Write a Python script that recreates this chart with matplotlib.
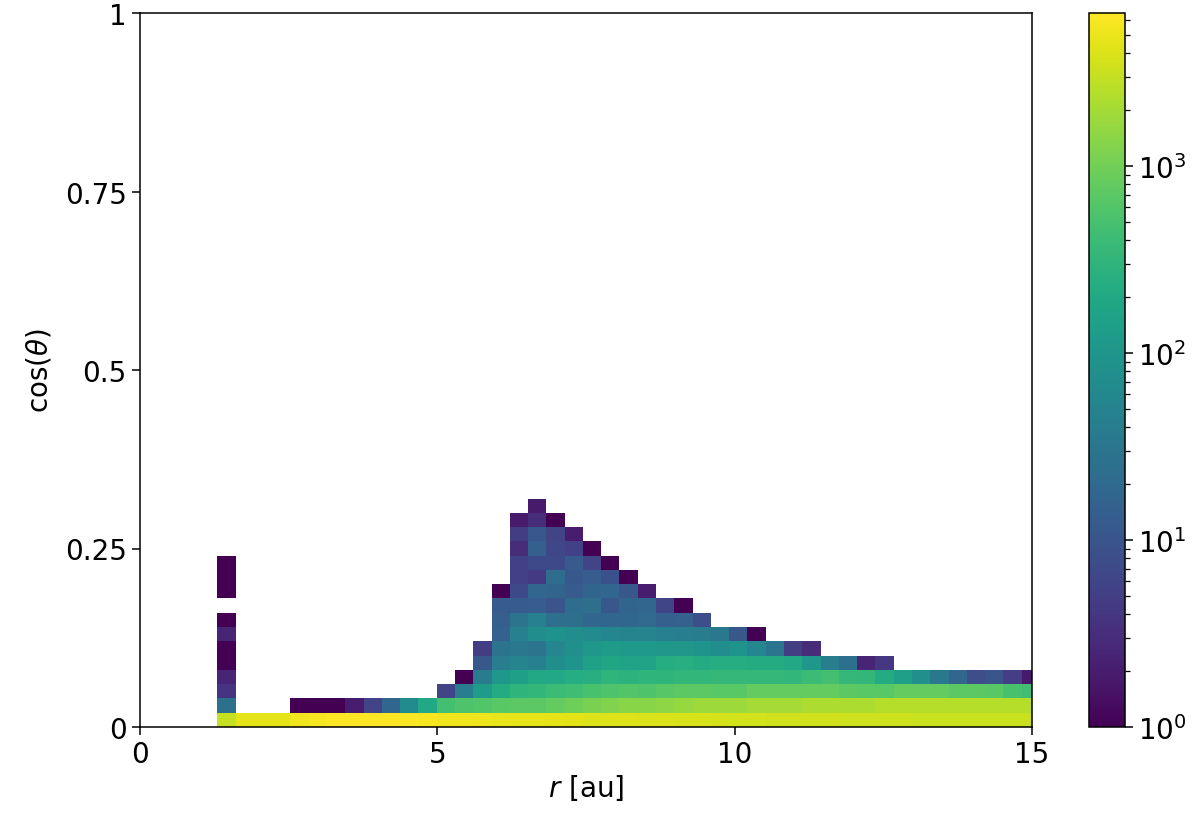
import numpy as np
import matplotlib
matplotlib.use("Agg")
import matplotlib.pyplot as plt
from matplotlib.colors import LogNorm

# bin layout
r_first_edge = 1.30
r_bin_width = 0.3074
n_cols = 45
n_rows = 50
cos_bin_width = 0.02

# counts per bin: (first column, values)
column_0 = [3000, 25, 3.8, 2.4, 1, 1, 2.4, 1, None, 1, 1, 1]
row_0 = (1, [4570, 4570, 4570, 5400, 6000, 6580, 6500, 6500, 6500, 6300, 6000, 5400, 5400, 5200, 4970,
             4800, 4700, 4570, 4400, 4200, 4200, 4100, 4000, 3950, 3870, 3800, 3700, 3550,
             3550, 3500, 3500, 3450, 3450, 3400, 3400, 3350, 3350, 3300, 3300, 3300, 3270, 3270, 3270, 3270])
row_1 = (4, [1, 1, 1, 2, 5.8, 18, 68, 196, 472, 560, 600, 660, 730, 730, 800, 950, 1135, 1250, 1370, 1370,
             1500, 1650, 1800, 1800, 1800,
             2000, 2000, 2000, 2200, 2200, 2200, 2200, 2450, 2450, 2450, 2450, 2450, 2450, 2450, 2450, 2450])
row_2 = (12, [5.8, 40, 125, 215, 305, 330, 400, 440, 510, 560, 600, 560, 650, 730, 730, 660, 660,
              800, 800, 800, 800, 800, 730, 660, 660, 800, 800, 800, 730, 730, 660, 510, 450])
row_3 = (13, [1, 37, 106, 140, 196, 196, 235, 250, 305, 280, 305, 305, 330, 330, 350, 350,
              350, 350, 330, 400, 472, 350, 330, 215, 140, 81, 34, 18, 8, 10, 5, 1.8])
row_4 = (14, [11, 40, 52, 44, 74, 95, 150, 180, 165, 165, 235, 250, 215, 235, 235,
              215, 215, 196, 106, 40, 25, 2.4, 4])
row_5 = (14, [4.8, 28, 34, 28, 57, 81, 106, 125, 115, 115, 106, 106, 95, 74, 95, 57, 31, 4.8, 2.9])
row_6 = (15, [15, 44, 74, 88, 74, 68, 57, 52, 52, 44, 40, 37, 34, 11, 1])
row_7 = (15, [14, 28, 44, 24, 24, 18, 18, 18, 20, 14, 15, 8])
row_8 = (15, [12, 12, 13, 10, 22, 24, 11, 17, 18, 5.8, 1])
row_9 = (15, [1, 7, 18, 17, 12, 17, 18, 11, 2])
row_10 = (16, [5.3, 4.4, 22, 11, 13, 9, 1])
row_11 = (16, [5.3, 7, 7, 12, 5.8, 1])
row_12 = (16, [2.9, 14, 6.4, 5.3, 1])
row_13 = (16, [4.8, 11, 5.8, 2])
row_14 = (16, [1.8, 2.9, 1])
row_15 = (17, [1.8])
rows = [row_0, row_1, row_2, row_3, row_4, row_5, row_6, row_7, row_8, row_9,
        row_10, row_11, row_12, row_13, row_14, row_15]

x_ticks = [0, 5, 10, 15]
y_ticks = [0, 0.25, 0.5, 0.75, 1]
y_tick_labels = ["0", "0.25", "0.5", "0.75", "1"]
vmin, vmax = 1, 6580

counts = np.full((n_rows, n_cols), np.nan)
for i, v in enumerate(column_0):
    if v is not None:
        counts[i, 0] = v
for i, (start, values) in enumerate(rows):
    counts[i, start:start + len(values)] = values
counts = np.ma.masked_invalid(counts)

r_edges = r_first_edge + r_bin_width * np.arange(n_cols + 1)
cos_edges = cos_bin_width * np.arange(n_rows + 1)

W, H = 1200, 820
fs = 20
fig = plt.figure(figsize=(W / 100, H / 100), dpi=100)
ax = fig.add_axes([140 / W, (H - 728) / H, 892 / W, 714 / H])
mesh = ax.pcolormesh(r_edges, cos_edges, counts, cmap="viridis",
                     norm=LogNorm(vmin=vmin, vmax=vmax), linewidth=0, rasterized=True)
ax.set_xlim(0, 15)
ax.set_ylim(0, 1)
ax.set_xticks(x_ticks)
ax.set_xticklabels([str(t) for t in x_ticks])
ax.set_yticks(y_ticks)
ax.set_yticklabels(y_tick_labels)
ax.tick_params(labelsize=fs, length=6, width=1.1)
ax.set_xlabel(r"$r$ [au]", fontsize=fs, labelpad=3)
ax.set_ylabel(r"$\cos(\theta)$", fontsize=fs, labelpad=8)
for s in ax.spines.values():
    s.set_linewidth(1.1)

cax = fig.add_axes([1089 / W, (H - 728) / H, 36 / W, 714 / H])
cb = fig.colorbar(mesh, cax=cax)
cb.ax.tick_params(which="major", labelsize=fs, length=6, width=1.1)
cb.ax.tick_params(which="minor", length=3.5, width=0.9)
cb.outline.set_linewidth(1.1)

fig.savefig("out.png", dpi=100)
